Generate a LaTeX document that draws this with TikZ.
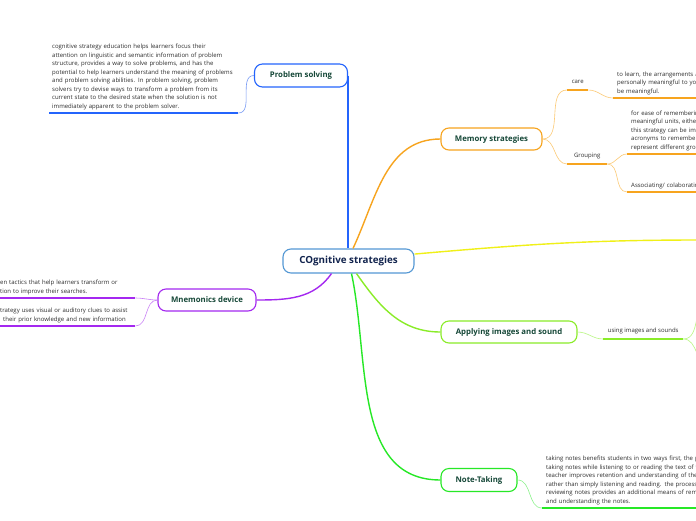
\documentclass[tikz,border=0pt]{standalone}
\usepackage{fontspec}
\setmainfont{Open Sans}
\usetikzlibrary{calc}
\definecolor{centerblue}{RGB}{84,152,212}
\definecolor{centertext}{RGB}{18,36,78}
\definecolor{topictext}{RGB}{22,72,56}
\definecolor{leaftext}{RGB}{45,45,45}
\definecolor{psblue}{RGB}{36,100,252}
\definecolor{pslight}{RGB}{120,155,245}
\definecolor{memorange}{RGB}{247,164,30}
\definecolor{memlight}{RGB}{252,202,118}
\definecolor{mainyellow}{RGB}{240,240,24}
\definecolor{imggreen}{RGB}{138,236,40}
\definecolor{imglight}{RGB}{184,246,128}
\definecolor{notegreen}{RGB}{38,232,38}
\definecolor{notelight}{RGB}{140,242,140}
\definecolor{mnpurple}{RGB}{164,40,240}
\definecolor{mnlight}{RGB}{202,130,246}

\begin{document}
\begin{tikzpicture}[x=1pt,y=1pt,
			topicbox/.style={
				draw,
				rounded corners=8pt,
				line width=1.1pt,
				fill=white,
				minimum height=22pt,
				inner sep=2pt,
				text=topictext,
				font=\fontsize{7.8}{9}\selectfont\bfseries
			},
			leafnote/.style={
				anchor=south west,
				align=left,
				inner xsep=4pt,
				inner ysep=3pt,
				text=leaftext,
				font=\fontsize{6}{8.5}\selectfont
			},
			leaflabel/.style={
				anchor=south west,
				inner xsep=0pt,
				inner ysep=4.5pt,
				text depth=1.5pt,
				text=leaftext,
				font=\fontsize{6}{8.5}\selectfont
			},
			branch/.style={line width=1.4pt},
			twig/.style={line width=0.6pt},
			underline/.style={line width=1.4pt}
			]
			
			\useasboundingbox (0,0) rectangle (696,-520);
			\fill[white] (0,0) rectangle (696,-520);
			\clip (0,0) rectangle (696,-520);
			
			% main topics
			\node[topicbox,draw=centerblue,text=centertext,minimum width=131pt,minimum height=24pt,
			font=\fontsize{9.8}{11}\selectfont\bfseries] (central) at (348.5,-261) {COgnitive strategies};
			\node[topicbox,draw=psblue,minimum width=93pt,minimum height=23pt] (ps) at (301,-75.5) {Problem solving};
			\node[topicbox,draw=memorange,minimum width=101pt] (memory) at (491.5,-139) {Memory strategies};
			\node[topicbox,draw=imggreen,minimum width=136pt] (applying) at (509,-332) {Applying images and sound};
			\node[topicbox,draw=notegreen,minimum width=76pt,minimum height=23pt] (notetaking) at (479,-480) {Note-Taking};
			\node[topicbox,draw=mnpurple,minimum width=98pt] (mnemo) at (207,-300) {Mnemonics device};
			
			% leaves
			\node[leafnote,inner xsep=3pt,text width=183pt] (pstext) at (49,-113) {
				cognitive strategy education helps learners focus their\\
				attention on linguistic and semantic information of problem\\
				structure, provides a way to solve problems, and has the\\
				potential to help learners understand the meaning of problems\\
				and problem solving abilities. In problem solving, problem\\
				solvers try to devise ways to transform a problem from its\\
				current state to the desired state when the solution is not\\
				immediately apparent to the problem solver.
			};
			
			\node[leaflabel,minimum width=21pt] (care) at (567,-90) {care};
			\node[leafnote,text width=110pt] (caretext) at (613,-98) {
				to learn, the arrangements are\\
				personally meaningful to your\\
				be meaningful.
			};
			\node[leaflabel,minimum width=40pt] (grouping) at (567,-164) {Grouping};
			\node[leafnote,text width=110pt] (grouptext) at (627,-154) {
				for ease of remembering\\
				meaningful units, either\\
				this strategy can be implemented\\
				acronyms to remember\\
				represent different groups
			};
			\node[leafnote,text width=110pt] (assoc) at (627,-192) {Associating/ colaborating};
			
			\node[leaflabel,minimum width=80pt] (using) at (603,-339) {using images and sounds};
			\coordinate (usingup) at (710,-300);
			\coordinate (usingdown) at (710,-366);
			
			\node[leafnote,text width=190pt] (notetext) at (542,-508) {
				taking notes benefits students in two ways first, the process of\\
				taking notes while listening to or reading the text of the\\
				teacher improves retention and understanding of the material\\
				rather than simply listening and reading. the process of\\
				reviewing notes provides an additional means of remembering\\
				and understanding the notes.
			};
			
			\node[leafnote,inner xsep=3pt,text width=132pt] (mntext1) at (-3,-298) {
				en tactics that help learners transform or\\
				tion to improve their searches.
			};
			\node[leafnote,inner xsep=3pt,text width=132pt] (mntext2) at (-3,-326) {
				trategy uses visual or auditory clues to assist\\
				\hspace*{3pt}their prior knowledge and new information
			};
			
			\coordinate (yellowend) at (700,-240);
			
			% branches from the centre
			\draw[branch,line width=1.8pt,psblue] (ps.east) -- (ps.east |- central.north);
			\draw[branch,memorange] ([xshift=4.5pt]central.north) to[out=65,in=180] (memory.west);
			\draw[branch,mainyellow] (central.6) to[out=5,in=180] (yellowend);
			\draw[branch,imggreen] ([xshift=8pt]central.south) to[out=-55,in=180] (applying.west);
			\draw[branch,notegreen] ([xshift=3pt]central.south) to[out=-78,in=180] (notetaking.west);
			\draw[branch,mnpurple] ([xshift=-17pt]central.south) to[out=-125,in=0] (mnemo.east);
			
			% problem solving
			\draw[twig,pslight] (ps.west) to[out=180,in=0] (pstext.south east);
			\draw[underline,psblue] (pstext.south west) -- (pstext.south east);
			
			% memory strategies
			\draw[twig,memlight] (memory.east) to[out=0,in=180] (care.south west);
			\draw[twig,memlight] (memory.east) to[out=0,in=180] (grouping.south west);
			\draw[underline,memorange] (care.south west) -- (care.south east);
			\draw[underline,memorange] (grouping.south west) -- (grouping.south east);
			\draw[twig,memlight] (care.south east) to[out=0,in=180] (caretext.south west);
			\draw[twig,memlight] (grouping.south east) to[out=0,in=180] (grouptext.south west);
			\draw[twig,memlight] (grouping.south east) to[out=0,in=180] (assoc.south west);
			\draw[underline,memorange] (caretext.south west) -- (caretext.south east);
			\draw[underline,memorange] (grouptext.south west) -- (grouptext.south east);
			\draw[underline,memorange] (assoc.south west) -- (assoc.south east);
			
			% images and sound
			\draw[twig,imglight] (applying.east) to[out=0,in=180] (using.south west);
			\draw[underline,imggreen] (using.south west) -- (using.south east);
			\draw[twig,imglight] (using.south east) to[out=0,in=180] (usingup);
			\draw[twig,imglight] (using.south east) to[out=0,in=180] (usingdown);
			
			% note-taking
			\draw[twig,notelight] (notetaking.east) to[out=0,in=180] (notetext.south west);
			\draw[underline,notegreen] (notetext.south west) -- (notetext.south east);
			
			% mnemonics
			\draw[twig,mnlight] (mnemo.west) to[out=180,in=0] (mntext1.south east);
			\draw[twig,mnlight] (mnemo.west) to[out=180,in=0] (mntext2.south east);
			\draw[underline,mnpurple] (mntext1.south west) -- (mntext1.south east);
			\draw[underline,mnpurple] (mntext2.south west) -- (mntext2.south east);
			
		\end{tikzpicture}
\end{document}
